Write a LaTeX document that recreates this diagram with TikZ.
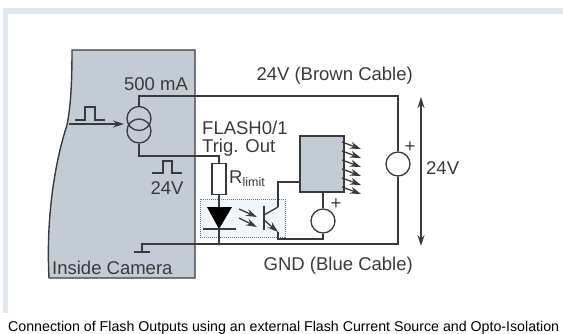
\documentclass[tikz,border=0pt]{standalone}
\usepackage{fontspec}
\setmainfont{Liberation Sans}
\usetikzlibrary{arrows.meta}
\definecolor{framecol}{HTML}{E0E7F0}
\definecolor{cameracol}{HTML}{C3CCD5}
\definecolor{wirecol}{HTML}{3A3A3A}
\definecolor{optocol}{HTML}{F1F6FB}
\begin{document}
\begin{tikzpicture}[
    x=1pt, y=-1pt,
    wire/.style={draw=wirecol, line width=1.3pt},
    label/.style={font=\fontsize{18.5}{22}\selectfont, text=wirecol, inner sep=0pt},
    source/.style={
        circle,
        draw=wirecol,
        line width=1.3pt,
        inner sep=0pt,
        minimum size=24pt
    },
    resistor/.style={
        rectangle,
        draw=wirecol,
        fill=white,
        line width=1.3pt,
        inner sep=0pt,
        minimum width=14pt,
        minimum height=31pt
    },
    ray/.style={wire, -{Stealth[length=11pt,width=7pt]}}
]
\useasboundingbox (0,0) rectangle (563,333);

% Frame
\fill[framecol] (3,8) rectangle (563,14);
\fill[framecol] (3,8) rectangle (8,313);

% Camera block
\path[fill=cameracol, draw=wirecol, line width=1.4pt] (72,50) -- (195,50) -- (195,278) -- (49,278)
    .. controls (46,220) and (54,165) .. (67,125) .. controls (71,105) and (72,80) .. (72,50) -- cycle;

% Opto box
\node[draw=wirecol!70, densely dotted, fill=optocol, line width=1pt, minimum width=85pt, minimum height=38pt, inner sep=0pt] (opto) at (242.5,218) {};

% Current source
\node[source] (srcup) at (139,118.5) {};
\node[source] (srcdown) at (139,131) {};

% External parts
\node[source] (extsrc) at (398,164) {};
\node[source] (ledsrc) at (323,221) {};
\node[rectangle, draw=wirecol, fill=cameracol, line width=1.4pt, minimum width=44pt, minimum height=56pt, inner sep=0pt] (ledblock) at (322,164) {};
\node[resistor] (rlimit) at (219,179) {};

% Diode
\coordinate (diodetop) at (219,207);
\coordinate (diodetip) at (219,229);
\fill[black] (207,207) -- (232,207) -- (diodetip) -- cycle;
\coordinate (gndtee) at (142,244);
\coordinate (diodegnd) at (219,244);
\draw[wire] (203,229) -- (236,229);
\fill[wirecol] (diodegnd) circle (1.5pt);

% Transistor
\coordinate (collector) at (278,207);
\coordinate (emitter) at (278,232);
\draw[wire, line width=1.5pt] (264,206) -- (264,230);
\draw[wire] (264,215) -- (collector);
\draw[ray] (264,220) -- (emitter);

% Opto rays
\draw[ray] (239,209) -- (257,217);
\draw[ray] (239,218) -- (257,227);

% Pulses
\draw[wire] (75,120) -- (85,120) -- (85,107) -- (95,107) -- (95,120) -- (105,120);
\draw[wire] (152,173) -- (163,173) -- (163,161) -- (172,161) -- (172,173) -- (182,173);

% Connections
\coordinate (trigin) at (69,124);
\coordinate (trigtip) at (124,124);
\draw[ray] (trigin) -- (trigtip);
\draw[wire] (srcup.north) |- (extsrc.north |- 0,96) -- (extsrc.north);
\draw[wire] (srcdown.south) |- (rlimit.north |- 0,156) -- (rlimit.north);
\draw[wire] (rlimit.south) -- (diodetop);
\draw[wire] (diodetip) -- (diodegnd);
\draw[wire] (extsrc.south) |- (gndtee) -- (142,252);
\draw[wire] (134,252) -- (150,252);
\draw[wire] (collector) |- (ledblock.west |- 0,182);
\draw[wire] (emitter) |- (ledsrc.south |- 0,239) -- (ledsrc.south);
\draw[wire] (ledsrc.north) -- (ledsrc.north |- ledblock.south);

% LED rays
\foreach \y in {142,151,160,169,178,187} {
    \draw[ray] (342,\y) -- (361,\y+7);
}

% 24V arrow
\coordinate (volttop) at (421,97);
\coordinate (voltbottom) at (421,246);
\draw[wire, {Stealth[length=11pt,width=7pt]}-{Stealth[length=11pt,width=7pt]}] (volttop) -- (voltbottom);

% Labels
\node[label] (lcurrent) at (156,84) {500 mA};
\node[label, anchor=west] (lflash) at (202,128) {FLASH0/1};
\node[label, anchor=west] (ltrig) at (202,148) {Trig. Out};
\node[label] (lpulse) at (167,188) {24V};
\node[label, anchor=west] (lr) at (229,179) {R\raisebox{-3pt}{\fontsize{12.5}{14}\selectfont limit}};
\node[label, anchor=east] (lbrown) at (413,75.5) {24V (Brown Cable)};
\node[label, anchor=east] (lblue) at (413,266) {GND (Blue Cable)};
\node[label, anchor=west] (lvolt) at (426,168) {24V};
\node[label, anchor=west] (lcamera) at (52,268) {Inside Camera};
\node[label] (lplus1) at (410,147) {+};
\node[label] (lplus2) at (336,204) {+};
\node[font=\fontsize{14.2}{16}\selectfont, inner sep=0pt, anchor=west] (caption) at (8,327.5) {Connection of Flash Outputs using an external Flash Current Source and Opto-Isolation};

\end{tikzpicture}
\end{document}
